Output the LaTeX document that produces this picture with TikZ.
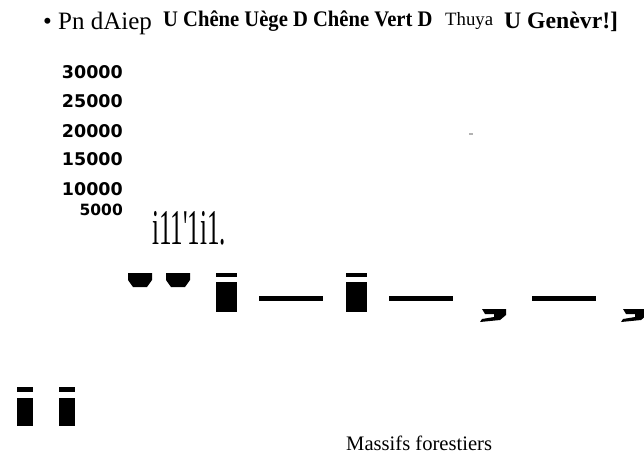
\documentclass[tikz,border=0pt]{standalone}
\usepackage{fontspec}
\setmainfont{Liberation Serif}
\newfontfamily\numfont{DejaVu Sans}
\usetikzlibrary{positioning}

\begin{document}
\begin{tikzpicture}[x=1pt, y=-1pt,
  txt/.style={anchor=base west, inner sep=0pt},
  axislbl/.style={anchor=base east, inner sep=0pt, font=\numfont\bfseries\fontsize{17.5}{20}\selectfont},
  ink/.style={fill=black, draw=none}]
  \useasboundingbox (0,0) rectangle (644,456);

  % Legend line
  \node[txt, font=\fontsize{25}{28}\selectfont] (leg1) at (43,29) {• Pn dAiep};
  \node[txt, font=\bfseries\fontsize{20.6}{24}\selectfont] (leg2) at (163,26) {\scalebox{1}[1.08]{U Chêne Uège D Chêne Vert D}};
  \node[txt, font=\fontsize{18.8}{22}\selectfont] (leg3) at (445,25) {Thuya};
  \node[txt, font=\bfseries\fontsize{23.7}{26}\selectfont] (leg4) at (504,28) {U Genèvr!]};

  % Axis values
  \foreach \v/\y in {30000/78, 25000/107, 20000/137, 15000/165, 10000/195}
    \node[axislbl] (val\v) at (123,\y) {\v};
  \node[axislbl, font=\numfont\bfseries\fontsize{15.5}{18}\selectfont] (val5000) at (123,215) {5000};

  % Small bars
  \node[txt] (ticks) at (152,244) {\scalebox{1}[2.0]{\fontsize{25}{25}\selectfont i11\textquotesingle 1i1.}};
  \fill[gray!60] (469,133) rectangle (473,135);

  % Row of marks
  \foreach \x in {128,166}
    \fill[ink] (\x,273) -- ++(24,0) -- ++(0,7) -- ++(-5,7) -- ++(-14,0) -- ++(-5,-7) -- cycle;
  \foreach \x in {216,346} {
    \fill[ink] (\x,273) rectangle ++(21,4);
    \fill[ink] (\x,282) rectangle ++(21,30);
  }
  \foreach \x in {259,389,532}
    \fill[ink] (\x,296) rectangle ++(64,5);
  \foreach \x in {482,623}
    \fill[ink] (\x,309) -- ++(24,0) -- ++(0,6) -- ++(-6,5) -- ++(-20,2) -- ++(2,-3) -- ++(12,-2) -- ++(0,-3) -- ++(-9,0) -- cycle;

  % Bottom marks
  \foreach \x in {17,59} {
    \fill[ink] (\x,387) rectangle ++(16,5);
    \fill[ink] (\x,398) rectangle ++(16,28);
  }

  % Caption
  \node[txt, font=\fontsize{20.6}{24}\selectfont] (caption) at (346,450) {Massifs forestiers};
\end{tikzpicture}
\end{document}
